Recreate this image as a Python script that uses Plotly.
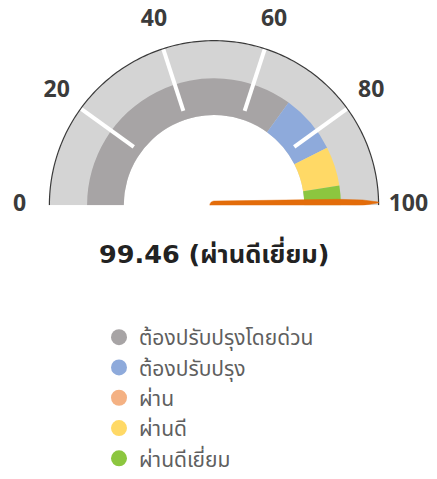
import numpy as np
import plotly.graph_objects as go

# ---- data ----
score = 99.46
score_label = "99.46 (ผ่านดีเยี่ยม)"
band_names = ["ต้องปรับปรุงโดยด่วน", "ต้องปรับปรุง", "ผ่าน", "ผ่านดี", "ผ่านดีเยี่ยม"]
band_start = [0, 70, 85, 85, 95]
band_end = [70, 85, 85, 95, 100]
band_colors = ["#A7A4A5", "#8EAADB", "#F4B183", "#FFD966", "#8CC63F"]
tick_values = [0, 20, 40, 60, 80, 100]
tick_labels = ["0", "20", "40", "60", "80", "100"]
divider_values = [20, 40, 60, 80]
gauge_min, gauge_max = 0, 100

# ---- geometry / style ----
R_HOLE, R_BAND, R_OUT, R_LABEL, R_DIV = 91, 128, 166, 196, 100
W, H = 437, 479
CX, CY, RMAX = 214, 207, 199


def to_theta(v):
    return (v - gauge_min) / (gauge_max - gauge_min) * 180.0


fig = go.Figure()

# outer light ring
fig.add_trace(go.Barpolar(r=[R_OUT - R_HOLE], base=[R_HOLE], theta=[90], width=[180],
                          marker=dict(color="#D4D4D4", line=dict(width=0)),
                          showlegend=False, hoverinfo="skip"))
# coloured bands
for name, s, e, c in zip(band_names, band_start, band_end, band_colors):
    fig.add_trace(go.Barpolar(r=[R_BAND - R_HOLE], base=[R_HOLE],
                              theta=[(to_theta(s) + to_theta(e)) / 2],
                              width=[to_theta(e) - to_theta(s)],
                              marker=dict(color=c, line=dict(width=0)),
                              showlegend=False, hoverinfo="skip"))
# white dividers
for v in divider_values:
    fig.add_trace(go.Scatterpolar(r=[R_DIV, R_OUT], theta=[to_theta(v)] * 2, mode="lines",
                                  line=dict(color="white", width=4),
                                  showlegend=False, hoverinfo="skip", cliponaxis=False))
# outer outline
arc_t = np.linspace(to_theta(gauge_min), to_theta(gauge_max), 181)
fig.add_trace(go.Scatterpolar(r=[R_OUT] * len(arc_t), theta=arc_t, mode="lines",
                              line=dict(color="#3a3a3a", width=1.2),
                              showlegend=False, hoverinfo="skip", cliponaxis=False))
# tick labels
fig.add_trace(go.Scatterpolar(r=[R_LABEL] * len(tick_values), theta=[to_theta(v) for v in tick_values],
                              mode="text", text=tick_labels, textposition="middle center",
                              textfont=dict(family="Open Sans", size=23, color="#3b3b3b", weight="bold"),
                              showlegend=False, hoverinfo="skip", cliponaxis=False))
# needle (tapered polygon)
tv = to_theta(score)
profile = [(0, 4.2), (125, 3.9), (150, 2.8), (R_OUT, 0.4)]
rr, tt = [], []
for d, w in profile:
    rr.append(np.hypot(d, w)); tt.append(tv - np.degrees(np.arctan2(w, d)))
for d, w in reversed(profile):
    rr.append(np.hypot(d, w)); tt.append(tv + np.degrees(np.arctan2(w, d)))
for a in np.linspace(90, 270, 19):
    rr.append(4.2); tt.append(tv + a)
fig.add_trace(go.Scatterpolar(r=rr, theta=tt, mode="lines", fill="toself",
                              fillcolor="#E36C0A", line=dict(color="#E36C0A", width=0.5),
                              showlegend=False, hoverinfo="skip", cliponaxis=False))
# legend entries
for i, (name, c) in enumerate(zip(band_names, band_colors)):
    fig.add_trace(go.Scatterpolar(r=[None], theta=[None], mode="markers", name=name,
                                  legendgroup=f"g{i}",
                                  marker=dict(symbol="circle", size=17, color=c)))

fig.add_annotation(text=score_label, x=CX / W, y=1 - 255 / H, xref="paper", yref="paper",
                   showarrow=False, xanchor="center", yanchor="middle",
                   font=dict(family="DejaVu Sans, Noto Sans Thai, sans-serif", size=25.5,
                             color="#222222", weight="bold"))

fig.update_layout(
    width=W, height=H, autosize=False,
    margin=dict(l=0, r=0, t=0, b=0),
    paper_bgcolor="white", plot_bgcolor="white",
    polar=dict(
        domain=dict(x=[(CX - RMAX) / W, (CX + RMAX) / W], y=[(H - CY) / H, (H - CY + RMAX) / H]),
        sector=[0, 180], hole=0, bgcolor="rgba(0,0,0,0)",
        radialaxis=dict(range=[0, RMAX], visible=False),
        angularaxis=dict(direction="clockwise", rotation=180, visible=False, thetaunit="degrees"),
        barmode="overlay",
    ),
    legend=dict(x=(118 - 19) / W, y=1 - (335 - 15) / H, xanchor="left", yanchor="top",
                font=dict(family="Noto Sans Thai, Noto Sans, sans-serif", size=21, color="#5f5f5f"),
                tracegroupgap=0, bgcolor="rgba(0,0,0,0)"),
    showlegend=True,
)

fig.write_html("out.html", config={"displayModeBar": False},
               post_script="document.body.style.margin='0';")
